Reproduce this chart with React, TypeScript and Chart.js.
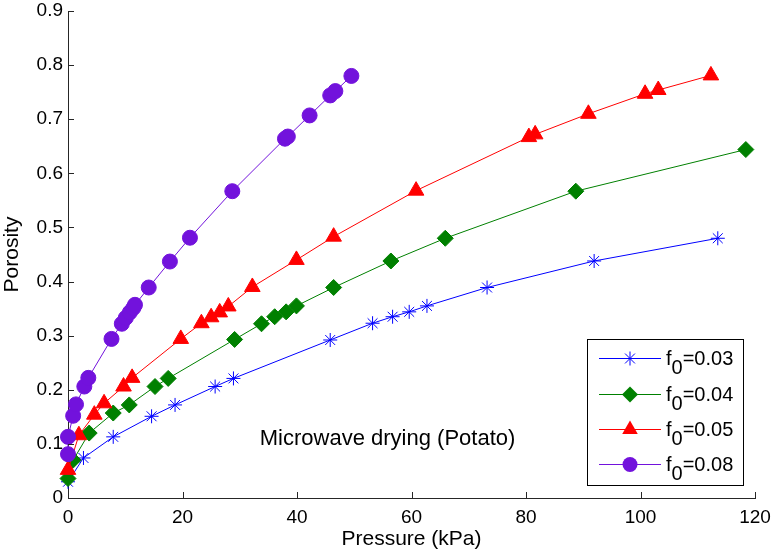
import React, { useEffect, useRef } from "react";
import { Chart, registerables } from "chart.js";

Chart.register(...registerables);

const seriesLabels = ["0.03", "0.04", "0.05", "0.08"];

const blueX = [0, 2.7, 7.9, 14.6, 18.7, 25.7, 28.9, 45.8, 53.2, 56.7, 59.6, 62.7, 73.2, 91.9, 113.5];
const blueY = [0.03, 0.074, 0.113, 0.151, 0.172, 0.206, 0.221, 0.292, 0.323, 0.335, 0.344, 0.355, 0.389, 0.438, 0.48];

const greenX = [0, 0.9, 3.7, 7.9, 10.7, 15.2, 17.5, 29.1, 33.8, 36.1, 38.1, 39.9, 46.4, 56.4, 65.9, 88.7, 118.4];
const greenY = [0.036, 0.07, 0.12, 0.157, 0.172, 0.206, 0.221, 0.293, 0.322, 0.335, 0.344, 0.355, 0.389, 0.438, 0.48, 0.567, 0.644];

const redX = [0, 1.9, 4.6, 6.3, 9.7, 11.2, 19.7, 23.3, 25.0, 26.5, 28.0, 32.2, 39.9, 46.4, 60.8, 80.5, 81.6, 90.9, 100.8, 103.1, 112.3];
const redY = [0.052, 0.116, 0.154, 0.175, 0.206, 0.222, 0.294, 0.323, 0.334, 0.343, 0.354, 0.39, 0.44, 0.483, 0.568, 0.667, 0.672, 0.71, 0.747, 0.754, 0.781];

const purpleX = [0, 0, 0.9, 1.4, 2.85, 3.55, 7.6, 9.4, 10.1, 10.8, 11.4, 11.7, 14.1, 17.8, 21.3, 28.7, 37.9, 38.4, 42.2, 45.8, 46.7, 49.5];
const purpleY = [0.081, 0.113, 0.152, 0.173, 0.206, 0.222, 0.294, 0.322, 0.333, 0.343, 0.351, 0.357, 0.389, 0.437, 0.481, 0.567, 0.664, 0.668, 0.707, 0.744, 0.752, 0.78];

const xTicks = [0, 20, 40, 60, 80, 100, 120];
const yTicks = [0, 0.1, 0.2, 0.3, 0.4, 0.5, 0.6, 0.7, 0.8, 0.9];

const annotationText = "Microwave drying (Potato)";
const xTitle = "Pressure (kPa)";
const yTitle = "Porosity";

const FONT = "'Liberation Sans', Arial, Helvetica, sans-serif";

const toPts = (xs: number[], ys: number[]) => xs.map((x, i) => ({ x, y: ys[i] }));

const styles = [
  { color: "#0000ff", pointStyle: "star", radius: 7, fill: false },
  { color: "#008000", pointStyle: "rectRot", radius: 8, fill: true },
  { color: "#ff0000", pointStyle: "triangle", radius: 9, fill: true },
  { color: "#7212dc", pointStyle: "circle", radius: 7.5, fill: true },
];

function drawMarker(ctx: CanvasRenderingContext2D, style: string, r: number, x: number, y: number, color: string) {
  ctx.save();
  ctx.fillStyle = color;
  ctx.strokeStyle = color;
  ctx.lineWidth = 1;
  ctx.beginPath();
  if (style === "star") {
    ctx.moveTo(x - r, y); ctx.lineTo(x + r, y);
    ctx.moveTo(x, y - r); ctx.lineTo(x, y + r);
    const d = r * Math.SQRT1_2;
    ctx.moveTo(x - d, y - d); ctx.lineTo(x + d, y + d);
    ctx.moveTo(x - d, y + d); ctx.lineTo(x + d, y - d);
    ctx.stroke();
  } else if (style === "rectRot") {
    ctx.moveTo(x, y - r); ctx.lineTo(x + r, y); ctx.lineTo(x, y + r); ctx.lineTo(x - r, y); ctx.closePath();
    ctx.fill();
  } else if (style === "triangle") {
    const a = Math.PI * 2 / 3;
    ctx.moveTo(x, y - r);
    ctx.lineTo(x + Math.sin(a) * r, y - Math.cos(a) * r);
    ctx.lineTo(x + Math.sin(2 * a) * r, y - Math.cos(2 * a) * r);
    ctx.closePath();
    ctx.fill();
  } else {
    ctx.arc(x, y, r, 0, Math.PI * 2);
    ctx.fill();
  }
  ctx.restore();
}

const ticksPlugin = {
  id: "inwardTicks",
  afterDraw(chart: any) {
    const ctx = chart.ctx;
    const xs = chart.scales.x;
    const ys = chart.scales.y;
    const area = chart.chartArea;
    ctx.save();
    ctx.strokeStyle = "#262626";
    ctx.lineWidth = 1;
    ctx.beginPath();
    xTicks.forEach((v) => {
      const px = Math.round(xs.getPixelForValue(v)) + 0.5;
      ctx.moveTo(px, area.bottom);
      ctx.lineTo(px, area.bottom - 6);
    });
    yTicks.forEach((v) => {
      const py = Math.round(ys.getPixelForValue(v)) + 0.5;
      ctx.moveTo(area.left, py);
      ctx.lineTo(area.left + 6, py);
    });
    ctx.stroke();

    // annotation text
    ctx.fillStyle = "#000";
    ctx.font = `22px ${FONT}`;
    ctx.textAlign = "left";
    ctx.textBaseline = "middle";
    ctx.fillText(annotationText, xs.getPixelForValue(33.5), ys.getPixelForValue(0.109));

    // legend
    const lx = 587, ly = 339, lw = 156, lh = 146;
    ctx.fillStyle = "#fff";
    ctx.fillRect(lx, ly, lw, lh);
    ctx.strokeStyle = "#000";
    ctx.strokeRect(lx + 0.5, ly + 0.5, lw, lh);
    const rowY = [358, 394, 429, 464];
    chart.data.datasets.forEach((ds: any, i: number) => {
      const y = rowY[i];
      ctx.strokeStyle = ds.borderColor;
      ctx.lineWidth = 1;
      ctx.beginPath();
      ctx.moveTo(599, y + 0.5);
      ctx.lineTo(661, y + 0.5);
      ctx.stroke();
      const st = styles[i];
      drawMarker(ctx, st.pointStyle, st.radius, 630, y + 0.5, st.color);
      ctx.fillStyle = "#000";
      ctx.font = `20px ${FONT}`;
      ctx.textBaseline = "alphabetic";
      ctx.textAlign = "left";
      ctx.fillText("f", 666, y + 7);
      const fw = ctx.measureText("f").width;
      ctx.fillText("0", 666 + fw, y + 16);
      const zw = ctx.measureText("0").width;
      ctx.fillText("=" + seriesLabels[i], 666 + fw + zw, y + 7);
    });
    ctx.restore();
  },
};

export default function App() {
  const ref = useRef<HTMLCanvasElement | null>(null);
  useEffect(() => {
    document.body.style.margin = "0";
    const series = [
      toPts(blueX, blueY),
      toPts(greenX, greenY),
      toPts(redX, redY),
      toPts(purpleX, purpleY),
    ];
    const chart = new Chart(ref.current as HTMLCanvasElement, {
      type: "line",
      data: {
        datasets: series.map((d, i) => ({
          label: "f0=" + seriesLabels[i],
          data: d,
          borderColor: styles[i].color,
          backgroundColor: styles[i].fill ? styles[i].color : "rgba(0,0,0,0)",
          pointBackgroundColor: styles[i].fill ? styles[i].color : "rgba(0,0,0,0)",
          pointBorderColor: styles[i].color,
          pointStyle: styles[i].pointStyle as any,
          pointRadius: styles[i].radius,
          pointBorderWidth: 1,
          borderWidth: 1,
          tension: 0,
          fill: false,
          clip: false as any,
          order: 3 - i,
        })),
      },
      options: {
        animation: false,
        responsive: false,
        maintainAspectRatio: false,
        events: [],
        layout: { padding: { left: 0, top: 11, right: 18, bottom: 0 } },
        plugins: {
          legend: { display: false },
          tooltip: { enabled: false },
        },
        scales: {
          x: {
            type: "linear",
            min: 0,
            max: 120,
            afterFit: (s: any) => { s.height = 54; s.paddingLeft = 0; s.paddingRight = 0; },
            afterBuildTicks: (s: any) => { s.ticks = xTicks.map((v) => ({ value: v })); },
            ticks: { color: "#000", font: { family: FONT, size: 19 }, padding: 8, maxRotation: 0 },
            grid: { display: false, drawTicks: false },
            border: { display: true, color: "#262626", width: 1 },
            title: { display: true, text: xTitle, color: "#000", font: { family: FONT, size: 21 }, padding: { top: 0, bottom: 0 } },
          },
          y: {
            type: "linear",
            min: 0,
            max: 0.9,
            afterFit: (s: any) => { s.width = 68; s.paddingTop = 0; s.paddingBottom = 0; },
            afterBuildTicks: (s: any) => { s.ticks = yTicks.map((v) => ({ value: v })); },
            ticks: {
              color: "#000",
              font: { family: FONT, size: 19 },
              padding: 5,
              callback: (v: any) => (Math.round(Number(v) * 10) / 10).toString(),
            },
            grid: { display: false, drawTicks: false },
            border: { display: true, color: "#262626", width: 1 },
            title: { display: true, text: yTitle, color: "#000", font: { family: FONT, size: 21 }, padding: { top: 0, bottom: 0 } },
          },
        },
      },
      plugins: [ticksPlugin],
    });
    return () => chart.destroy();
  }, []);
  return (
    <div style={{ position: "absolute", left: 0, top: 0, width: 773, height: 552, background: "#fff" }}>
      <canvas ref={ref} width={773} height={552} style={{ width: 773, height: 552 }} />
    </div>
  );
}
